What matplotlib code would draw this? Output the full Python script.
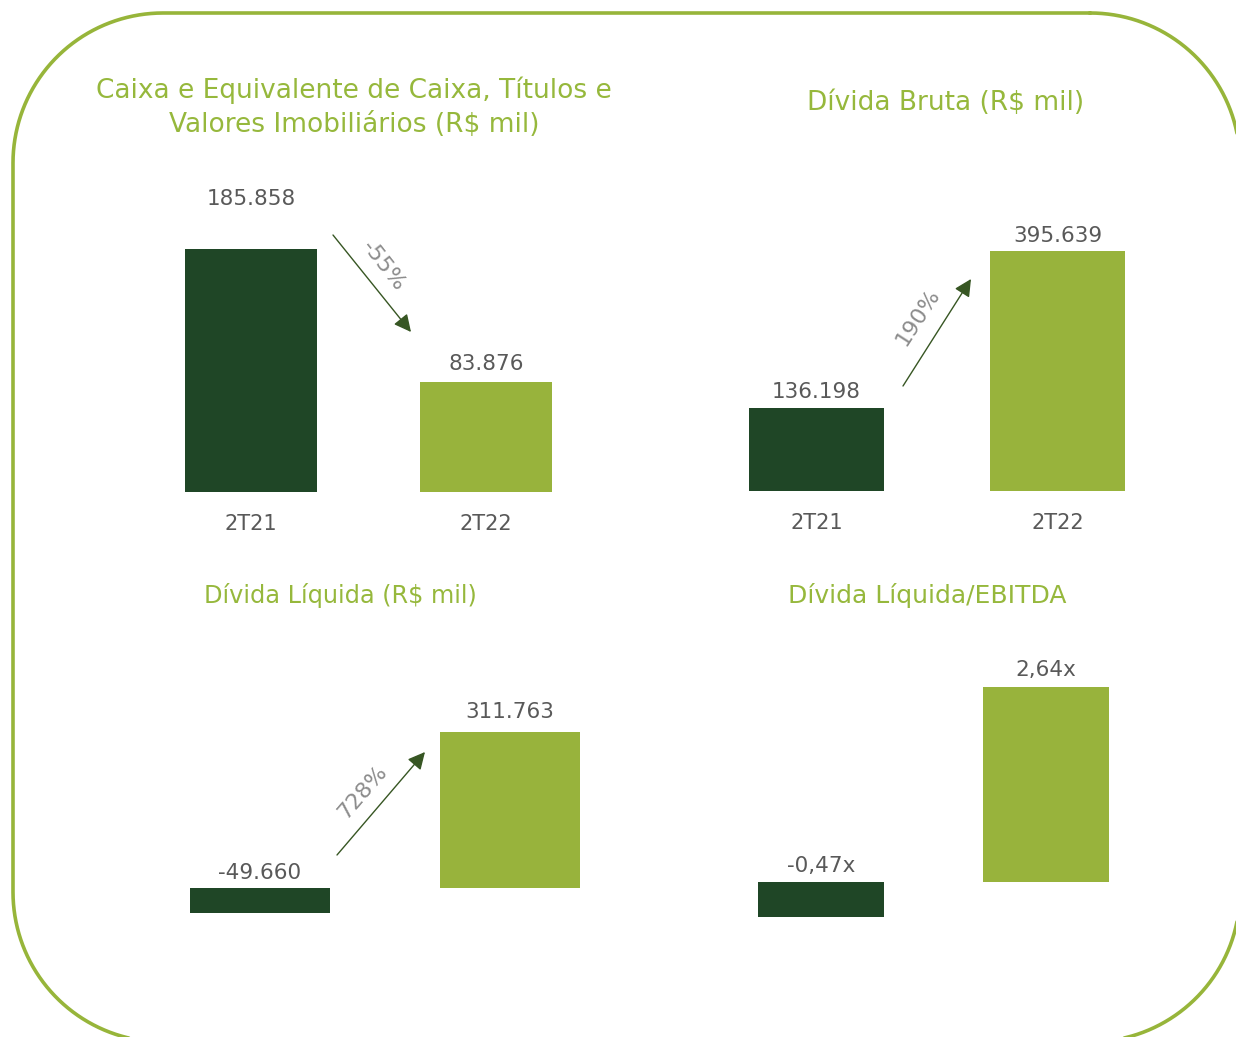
import matplotlib
matplotlib.use("Agg")
import matplotlib.pyplot as plt
import numpy as np

plt.rcParams['font.family'] = ['DejaVu Sans']

# dados (R$ mil e x)
periodos = ['2T21', '2T22']
caixa = [185858, 83876]
divida_bruta = [136198, 395639]
divida_liquida = [-49660, 311763]
divida_ebitda = [-0.47, 2.64]
variacoes = ['-55%', '190%', '728%', None]
titulos = [
    ['Caixa e Equivalente de Caixa, Títulos e', 'Valores Imobiliários (R$ mil)'],
    ['Dívida Bruta (R$ mil)'],
    ['Dívida Líquida (R$ mil)'],
    ['Dívida Líquida/EBITDA'],
]

W, H = 1236, 1037
ESCURO = '#1F4626'
CLARO = '#98B33C'
VERDE_TITULO = '#96B83C'
CINZA = '#595959'
SETA = '#375623'


def milhar(v):
    return f"{v:,}".replace(',', '.')


def vezes(v):
    return f"{v:.2f}x".replace('.', ',')


fig = plt.figure(figsize=(W / 100, H / 100), dpi=100)
bg = fig.add_axes([0, 0, 1, 1], zorder=0)
bg.set_xlim(0, W)
bg.set_ylim(H, 0)
bg.axis('off')


def moldura(x0, y0, x1, y1, r):
    # retângulo arredondado feito de segmentos (evita distorção no recorte)
    t = np.linspace(0, np.pi / 2, 40)
    cantos = [
        (x1 - r, y0 + r, -np.pi / 2 + t),   # sup. direito
        (x1 - r, y1 - r, t),                # inf. direito
        (x0 + r, y1 - r, np.pi / 2 + t),    # inf. esquerdo
        (x0 + r, y0 + r, np.pi + t),        # sup. esquerdo
    ]
    xs, ys = [], []
    for cx, cy, ang in cantos:
        xs.extend(cx + r * np.cos(ang))
        ys.extend(cy + r * np.sin(ang))
    xs.append(xs[0])
    ys.append(ys[0])
    bg.plot(xs, ys, color='#97B53A', lw=2.6, clip_on=False,
            solid_joinstyle='round', solid_capstyle='round')


moldura(13, 13, 1240, 1042, 150)


def grafico(valores, fmt, c0, c1, larg, base, k, offsets, ticks, fundo):
    # monta um eixo cuja escala coloca as barras nos pixels certos
    sp = c1 - c0
    topo = base - 320
    baixo = base + fundo
    ax = fig.add_axes([(c0 - sp / 2) / W, 1 - baixo / H, 2 * sp / W, (baixo - topo) / H], zorder=1)
    ax.set_xlim(-0.5, 1.5)
    ax.set_ylim(-(baixo - base) / k, (base - topo) / k)
    ax.bar([0, 1], valores, width=larg / sp, color=[ESCURO, CLARO])
    for i, v in enumerate(valores):
        ax.annotate(fmt(v), (i, max(v, 0)), xytext=(0, offsets[i] * 0.72), textcoords='offset points',
                    ha='center', va='center', fontsize=15.5, color=CINZA)
    for s in ax.spines.values():
        s.set_visible(False)
    ax.set_yticks([])
    ax.patch.set_alpha(0)
    if ticks:
        ax.set_xticks([0, 1], periodos)
        ax.tick_params(axis='x', length=0, pad=16, labelsize=15, labelcolor=CINZA)
    else:
        ax.set_xticks([])
    return ax


grafico(caixa, milhar, 251, 486, 132, 492, 1.307e-3, [50, 18], True, 0)
grafico(divida_bruta, milhar, 816.5, 1057.5, 135, 491, 0.607e-3, [16, 15], True, 0)
grafico(divida_liquida, milhar, 260, 510, 140, 888, 0.501e-3, [15, 20], False, 60)
grafico(divida_ebitda, vezes, 821, 1046, 126, 882, 73.8, [16, 17], False, 60)

# títulos
pos_titulos = [(354, [90, 125], 19), (946, [103], 19), (340, [596], 17.3), (927, [596], 18)]
for linhas, (x, ys, fs) in zip(titulos, pos_titulos):
    for linha, y in zip(linhas, ys):
        bg.text(x, y, linha, ha='center', va='center', fontsize=fs, color=VERDE_TITULO)

# setas de variação
setas = [((333, 235), (411, 332)), ((903, 386), (971, 279)), ((337, 855), (425, 752))]
textos = [((383, 266), -52), ((918, 317), 57), ((362, 792), 49)]
for var, (a, b), ((tx, ty), rot) in zip(variacoes, setas, textos):
    bg.annotate('', xy=b, xytext=a,
                arrowprops=dict(arrowstyle='-|>', color=SETA, lw=1, mutation_scale=26,
                                shrinkA=0, shrinkB=0))
    bg.text(tx, ty, var, rotation=rot, rotation_mode='anchor', ha='center', va='center',
            fontsize=16, color='#8C8C8C')

fig.savefig('out.png', dpi=100)
